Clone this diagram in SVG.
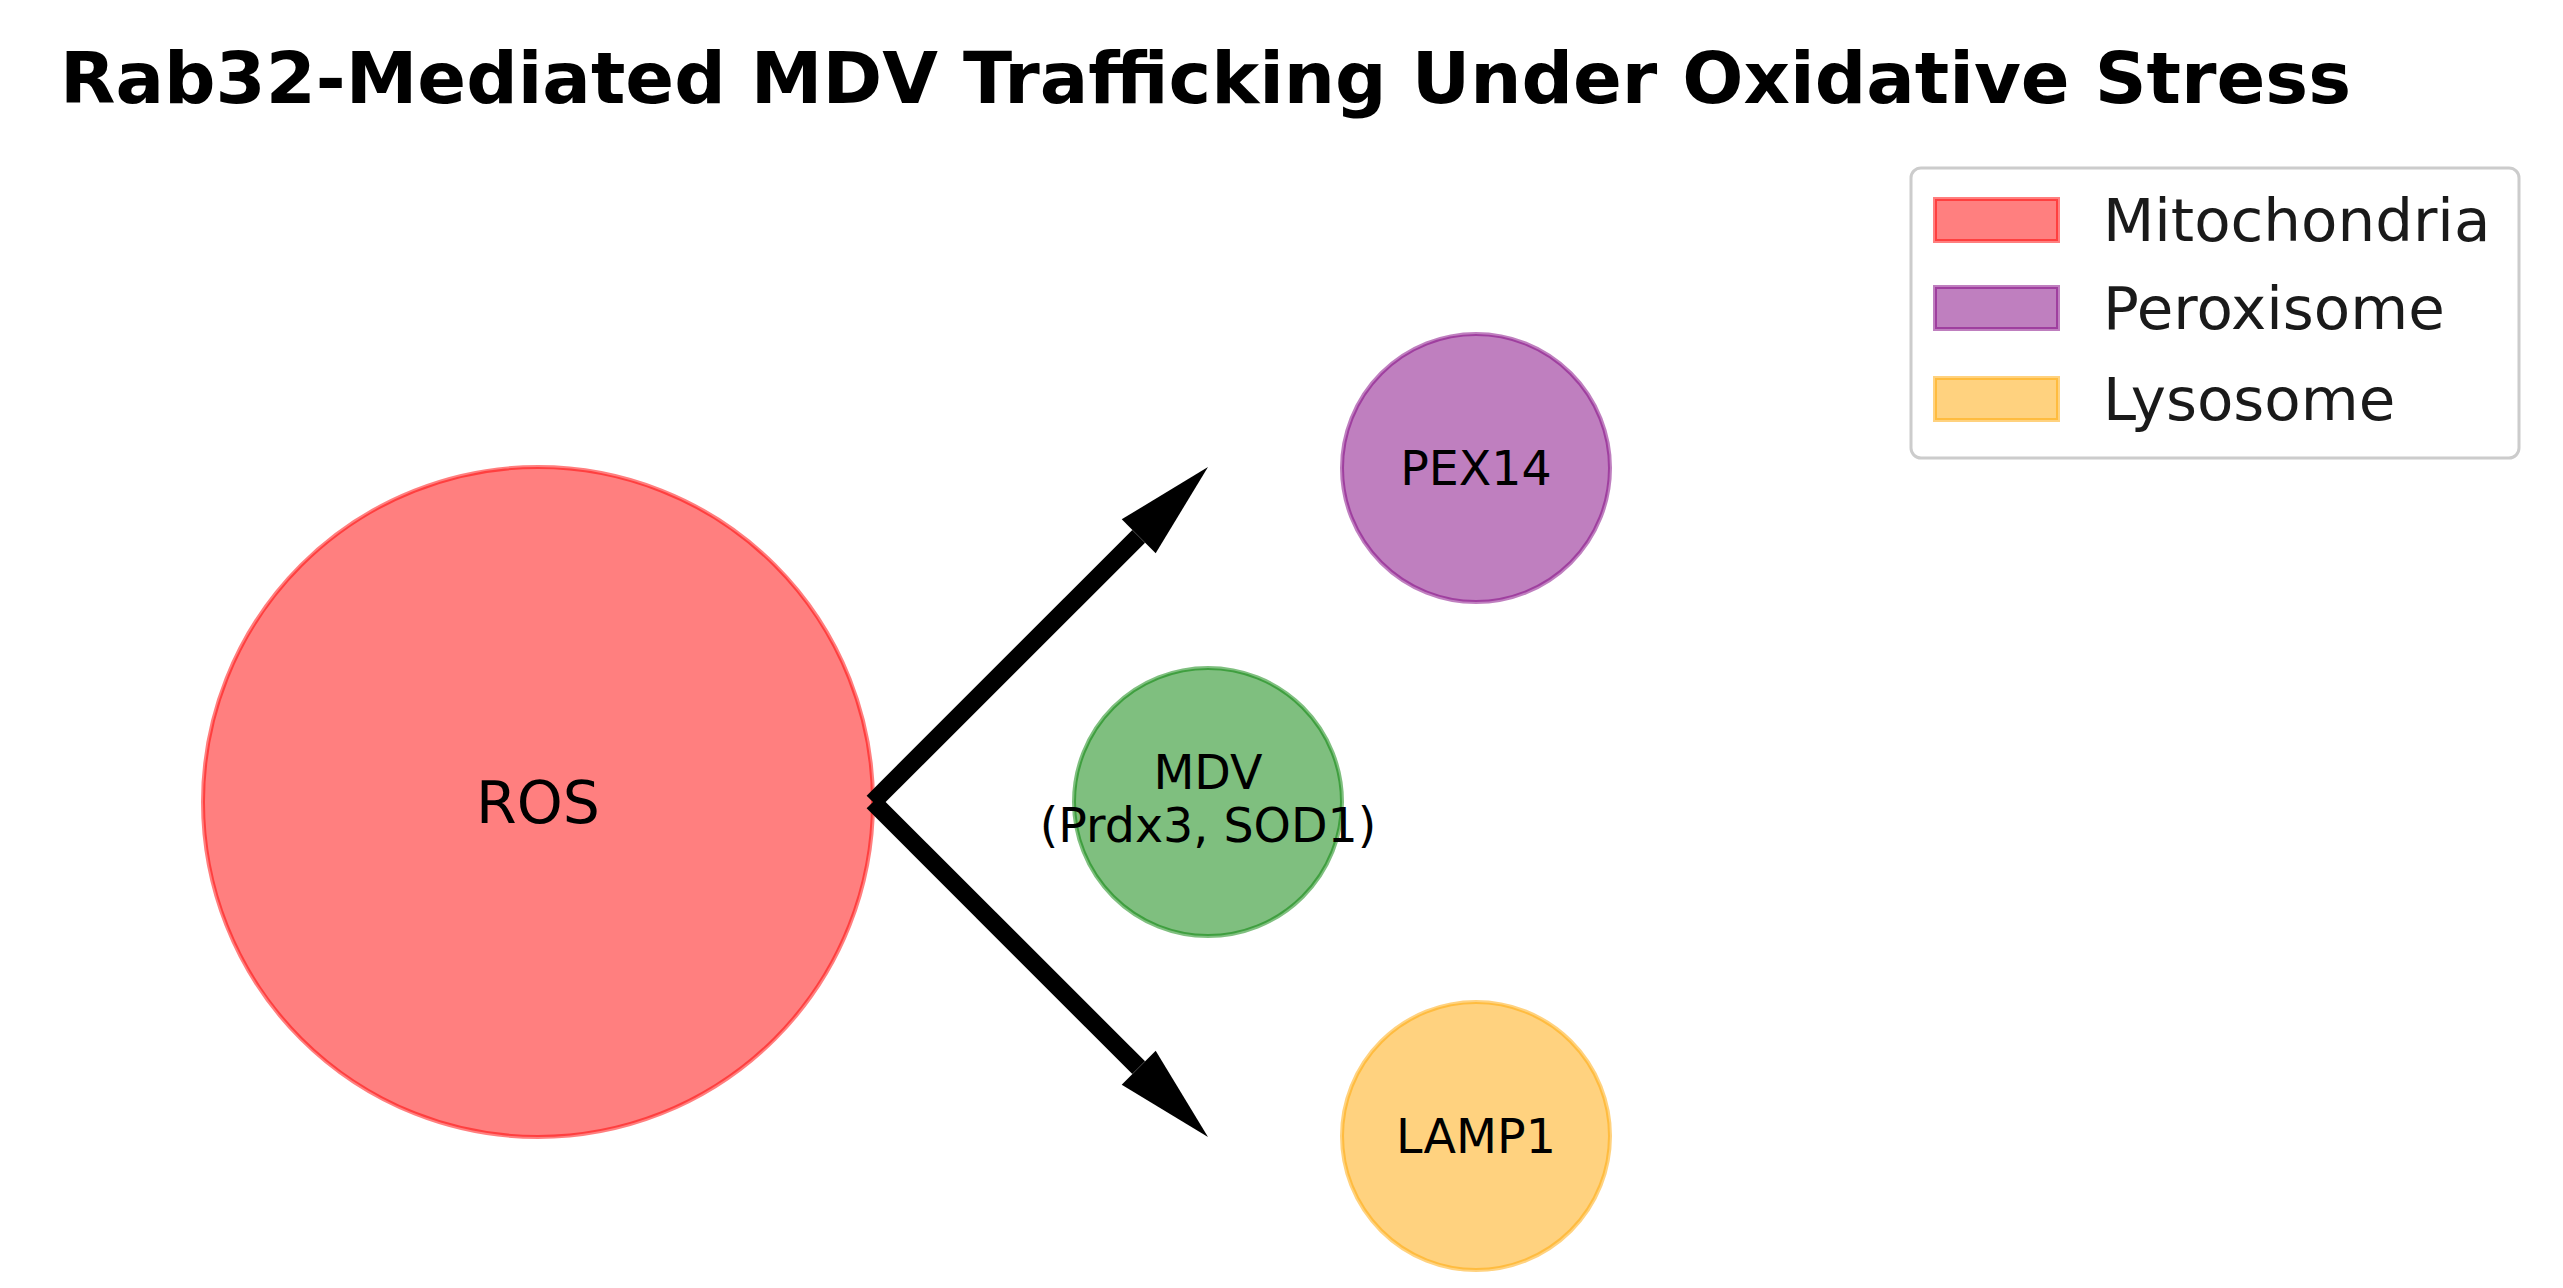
<svg xmlns="http://www.w3.org/2000/svg" width="2563" height="1288" viewBox="0 0 2563 1288">
<style>
  text { font-family: "DejaVu Sans", "Liberation Sans", sans-serif; fill: #000; }
  .title { font-size: 72px; font-weight: bold; }
  .lbl { font-size: 47.5px; text-anchor: middle; }
  .big { font-size: 58.5px; text-anchor: middle; }
  .leg { font-size: 59.5px; fill: #1a1a1a; }
  .mito { fill: red; fill-opacity: 0.5; stroke: red; stroke-opacity: 0.5; stroke-width: 4; }
  .perox { fill: purple; fill-opacity: 0.5; stroke: purple; stroke-opacity: 0.5; stroke-width: 4; }
  .lyso { fill: orange; fill-opacity: 0.5; stroke: orange; stroke-opacity: 0.5; stroke-width: 4; }
  .mdv { fill: green; fill-opacity: 0.5; stroke: green; stroke-opacity: 0.5; stroke-width: 4; }
  .arrow { stroke: #000; stroke-width: 18; stroke-linecap: butt; fill: none; marker-end: url(#head); }
</style>
<defs>
  <marker id="head" markerUnits="userSpaceOnUse" markerWidth="100" markerHeight="52" refX="0" refY="26" orient="auto" overflow="visible">
    <path d="M0,2 L98,26 L0,50 z" fill="#000"/>
  </marker>
</defs>
<rect width="2563" height="1288" fill="#fff"/>
<text class="title" x="60" y="103">Rab32-Mediated MDV Trafficking Under Oxidative Stress</text>

<g id="node-ros">
  <circle class="mito" cx="538" cy="802" r="335"/>
  <text class="big" x="538" y="823">ROS</text>
</g>
<g id="node-mdv">
  <circle class="mdv" cx="1208" cy="802" r="134"/>
  <text class="lbl" x="1208" y="789">MDV</text>
  <text class="lbl" x="1208" y="842">(Prdx3, SOD1)</text>
</g>
<g id="node-pex14">
  <circle class="perox" cx="1476" cy="468" r="134"/>
  <text class="lbl" x="1476" y="485">PEX14</text>
</g>
<g id="node-lamp1">
  <circle class="lyso" cx="1476" cy="1136" r="134"/>
  <text class="lbl" x="1476" y="1153">LAMP1</text>
</g>

<g id="connectors">
  <line class="arrow" x1="873" y1="802" x2="1138.7" y2="536.3"/>
  <line class="arrow" x1="873" y1="802" x2="1138.7" y2="1067.7"/>
</g>

<g id="legend">
  <rect x="1911" y="168" width="608" height="290" rx="10" fill="#fff" fill-opacity="0.8" stroke="#cccccc" stroke-width="3"/>
  <rect class="mito" x="1935" y="199" width="123" height="42"/>
  <text class="leg" x="2103" y="241">Mitochondria</text>
  <rect class="perox" x="1935" y="287" width="123" height="42"/>
  <text class="leg" x="2103" y="329">Peroxisome</text>
  <rect class="lyso" x="1935" y="378" width="123" height="42"/>
  <text class="leg" x="2103" y="420">Lysosome</text>
</g>
</svg>
